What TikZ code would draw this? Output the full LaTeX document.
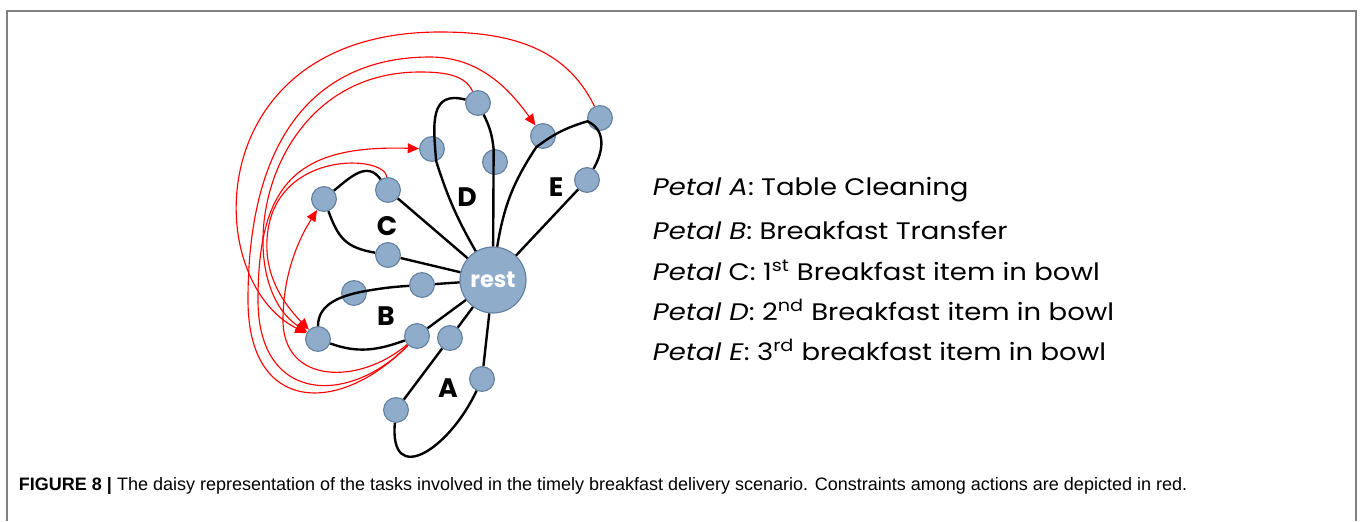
\documentclass[tikz,border=0pt]{standalone}
\usepackage{fontspec}
\newfontfamily\legendfont[FakeStretch=1.15]{Poppins}
\newfontfamily\letterfont{Poppins}
\newfontfamily\capfont{Liberation Sans}
\usetikzlibrary{arrows.meta}
\definecolor{petalblue}{RGB}{143,172,203}
\definecolor{petaledge}{RGB}{100,128,160}
\definecolor{framegray}{RGB}{128,128,128}
\begin{document}
\begin{tikzpicture}[x=0.025cm, y=0.025cm,
        vertex/.style={circle, draw=petaledge, fill=petalblue, line width=0.8pt, minimum size=0.62cm, inner sep=0pt},
        restnode/.style={circle, draw=petaledge, fill=petalblue, line width=0.8pt, minimum size=1.65cm, inner sep=0pt,
            font=\letterfont\bfseries\fontsize{16}{16}\selectfont, text=white},
        petal/.style={black, line width=1.7pt},
        constraint/.style={red, line width=0.8pt, -{Triangle[length=8pt, width=7pt]}},
        letter/.style={font=\letterfont\bfseries\fontsize{19}{19}\selectfont},
        legend/.style={anchor=west, font=\legendfont\fontsize{17}{17}\selectfont},
        frame/.style={framegray, line width=1.2pt}
    ]
        \useasboundingbox (0,0) rectangle (1360,-521);
        \draw[frame] (7,-521) -- (7,-11) -- (1356,-11) -- (1356,-521);

        % centre
        \node[restnode] (rest) at (493,-280) {rest};

        % Petal A
        \node[vertex] (a1) at (450,-338) {};
        \node[vertex] (a2) at (482,-379) {};
        \node[vertex] (a3) at (396,-410) {};
        % Petal B
        \node[vertex] (b1) at (354,-293) {};
        \node[vertex] (b2) at (422,-285) {};
        \node[vertex] (b3) at (318,-339) {};
        \node[vertex] (b4) at (417,-336) {};
        % Petal C
        \node[vertex] (c1) at (324,-199) {};
        \node[vertex] (c2) at (388,-190) {};
        \node[vertex] (c3) at (388,-255) {};
        % Petal D
        \node[vertex] (d1) at (432,-149) {};
        \node[vertex] (d2) at (478,-103) {};
        \node[vertex] (d3) at (495,-162) {};
        % Petal E
        \node[vertex] (e1) at (543,-136) {};
        \node[vertex] (e2) at (600,-118) {};
        \node[vertex] (e3) at (587,-180) {};

        % petal names
        \node[letter] (la) at (448,-388) {A};
        \node[letter] (lb) at (386,-316) {B};
        \node[letter] (lc) at (387,-226) {C};
        \node[letter] (ld) at (467,-197) {D};
        \node[letter] (le) at (556,-187) {E};

        % petals
        \draw[petal] (rest) -- (a1) -- (a3) to[out=-95, in=-115, looseness=1.9] (a2) -- (rest);
        \draw[petal] (rest) -- (b2) to[bend right=3] (b1) to[out=190, in=90] (b3) to[out=-20, in=200] (b4) -- (rest);
        \draw[petal] (rest) -- (c2) to[out=125, in=40, looseness=1.2] (c1) to[out=-70, in=170, looseness=1.2] (c3) -- (rest);
        \draw[petal] (rest) to[bend left=6] (d1) to[out=95, in=165, looseness=1.4] (d2) to[bend left=10] (d3) -- (rest);
        \draw[petal] (rest) to[bend left=12] (e1) to[bend left=10] (e2) to[out=-25, in=60, looseness=1.1] (e3) -- (rest);

        % constraints (red)
        \draw[constraint] (e2) .. controls (565,-45) and (505,-32) .. (440,-32)
            .. controls (200,-32) and (200,-280) .. (b3);
        \draw[constraint] (d2) .. controls (465,-75) and (445,-72) .. (420,-72)
            .. controls (260,-72) and (228,-280) .. (b3);
        \draw[constraint] (c2) .. controls (385,-155) and (280,-150) .. (268,-230)
            .. controls (262,-270) and (280,-300) .. (b3);
        \draw[constraint] (b4) .. controls (360,-385) and (283,-385) .. (283,-320)
            .. controls (283,-280) and (295,-245) .. (c1);
        \draw[constraint] (b4) .. controls (350,-405) and (258,-405) .. (258,-300)
            .. controls (258,-180) and (300,-145) .. (d1);
        \draw[constraint] (b4) .. controls (340,-415) and (248,-415) .. (248,-300)
            .. controls (248,-120) and (330,-57) .. (430,-57)
            .. controls (480,-57) and (510,-90) .. (e1);

        % legend
        \node[legend] (pa) at (648,-190) {\textit{Petal A}: Table Cleaning};
        \node[legend] (pb) at (648,-230) {\textit{Petal B}: Breakfast Transfer};
        \node[legend] (pc) at (648,-270) {\textit{Petal} C: 1\textsuperscript{st} Breakfast item in bowl};
        \node[legend] (pd) at (648,-310) {\textit{Petal D}: 2\textsuperscript{nd} Breakfast item in bowl};
        \node[legend] (pe) at (648,-350) {\textit{Petal E}: 3\textsuperscript{rd} breakfast item in bowl};

        % caption
        \node[anchor=west, font=\capfont\fontsize{12.8}{12.8}\selectfont] (cap) at (14,-486)
            {\textbf{FIGURE 8 |} The daisy representation of the tasks involved in the timely breakfast delivery scenario. Constraints among actions are depicted in red.};
    \end{tikzpicture}
\end{document}
